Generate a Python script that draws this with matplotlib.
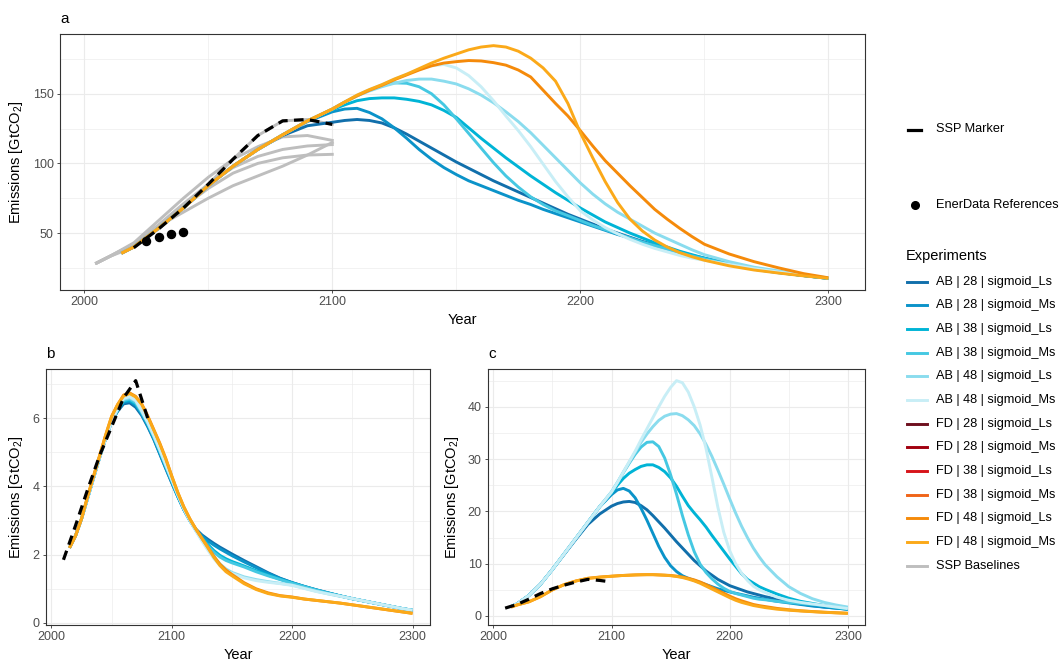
import numpy as np
import matplotlib
matplotlib.use('Agg')
import matplotlib.pyplot as plt
from matplotlib.lines import Line2D
from matplotlib.ticker import MultipleLocator

plt.rcParams['font.family'] = ['Liberation Sans', 'DejaVu Sans']
plt.rcParams['mathtext.fontset'] = 'custom'
plt.rcParams['mathtext.rm'] = 'Liberation Sans'
plt.rcParams['mathtext.it'] = 'Liberation Sans:italic'

# ---- data -------------------------------------------------------------
experiment_labels = ['AB | 28 | sigmoid_Ls', 'AB | 28 | sigmoid_Ms',
                     'AB | 38 | sigmoid_Ls', 'AB | 38 | sigmoid_Ms',
                     'AB | 48 | sigmoid_Ls', 'AB | 48 | sigmoid_Ms',
                     'FD | 28 | sigmoid_Ls', 'FD | 28 | sigmoid_Ms',
                     'FD | 38 | sigmoid_Ls', 'FD | 38 | sigmoid_Ms',
                     'FD | 48 | sigmoid_Ls', 'FD | 48 | sigmoid_Ms']
experiment_colors = ['#116fab', '#0b93c9', '#00b4d6', '#45c8e2', '#8adcee', '#c8eef6',
                     '#6e0f1e', '#a1000f', '#d7141a', '#f06418', '#f58a0a', '#fba919']

# panel a: total emissions, sampled denser where the runs bend
years_a = [2015] + list(range(2020, 2100, 10)) + list(range(2100, 2251, 5)) + list(range(2260, 2301, 10))
a_ab28_ls = [35.5, 40, 53.5, 68, 84, 98, 110, 120, 127,
             129.5, 130.8, 131.5, 130.8, 129, 125.5, 121, 116, 111, 106, 101, 96.5, 92, 87.5, 83.5, 79.5,
             75.5, 71.5, 67.5, 63.5, 60, 56.5, 53, 50, 47, 44, 41.5, 39, 36.5, 34, 32,
             28, 24.5, 21.8, 19.5, 17.5]
a_ab28_ms = [35.5, 40, 53.5, 68, 84, 98, 110, 120.5, 130,
             137, 139, 139.5, 136.5, 132, 125.5, 118, 110, 103, 97, 92, 87.5, 84, 80.5, 77, 73.5,
             70.5, 67, 64, 61, 58, 55, 52, 49, 46.5, 43.5, 41, 38.5, 36, 33.5, 31.5,
             27.5, 24, 21.5, 19.5, 17.5]
a_ab38_ls = [35.5, 40, 53.5, 68, 84, 98, 110, 120.5, 130.5,
             138.5, 142, 145, 146.5, 147, 147, 146, 144.5, 142, 138, 133, 125.5, 118, 111, 104, 97.5,
             91, 85, 79, 73.5, 68, 63, 58, 54, 50, 46.5, 43, 40, 37, 34.5, 32,
             28, 24.5, 21.8, 19.5, 17.5]
a_ab38_ms = [35.5, 40, 53.5, 68, 84, 98, 110, 120.5, 130.5,
             139, 144, 148.5, 152.5, 156, 157.8, 157.5, 155, 150, 142, 132, 121.5, 111, 100.5, 91, 83,
             76, 70.5, 66, 62.5, 59, 55.5, 52.5, 49.5, 46.5, 43.5, 41, 38.5, 36, 33.5, 31.5,
             27.5, 24.5, 21.8, 19.5, 17.5]
a_ab48_ls = [35.5, 40, 53.5, 68, 84, 98, 110, 120.5, 130.5,
             139, 144, 148.5, 152, 155, 157.5, 159.5, 160.5, 160.5, 159, 157, 153.5, 149, 143.5, 137, 130,
             122, 113, 104, 95, 86, 78, 71, 65, 60, 55, 50, 46, 42, 38, 34.5,
             29.5, 25.5, 22.8, 20, 17.8]
a_ab48_ms = [35.5, 40, 53.5, 68, 84, 98, 110, 120.5, 130.5,
             139, 144, 149, 153, 156.5, 160.5, 164, 167.5, 170, 171, 168.5, 163, 155, 145, 134, 123.5,
             112, 99.5, 87, 76, 66, 59.5, 54, 49.5, 45.5, 42, 39, 36.5, 34, 32, 30.5,
             27.5, 24.5, 22, 19.8, 17.8]
a_fd48_ls = [35.5, 40, 53.5, 68, 84, 98, 110, 120.5, 130.5,
             139, 144, 148.5, 152.5, 156, 160, 163.5, 167, 170, 172, 173, 173.8, 173.5, 172.3, 170.5, 167,
             162, 152.5, 143, 134, 123.5, 112.5, 102, 93, 84, 75.5, 67, 60, 53.5, 47.5, 42,
             35, 29.5, 25, 20.9, 17.9]
a_fd48_ms = [35.5, 40, 53.5, 68, 84, 98, 110, 120.5, 130.5,
             139, 144, 149, 153, 156.5, 160.5, 164, 168, 172, 175.5, 178.5, 181.5, 183.5, 184.5, 183.5, 180.5,
             175.5, 168.5, 159, 143, 122, 104, 87, 72, 60, 51.5, 45, 40, 36, 33, 30.5,
             26.5, 23.5, 21.3, 19.3, 17.5]

# panel b
years_b = list(range(2015, 2151, 5)) + list(range(2160, 2301, 10))
b_ab28_ls = [2.2, 2.55, 3.05, 3.65, 4.25, 4.85, 5.4, 5.9,
             6.2, 6.42, 6.45, 6.32, 6.08, 5.75, 5.38, 4.95, 4.52, 4.1, 3.7, 3.32, 3.0, 2.75, 2.58, 2.45,
             2.33, 2.22, 2.12, 2.02,
             1.83, 1.65, 1.47, 1.31, 1.18, 1.07, 0.97, 0.88, 0.79, 0.71, 0.64, 0.57, 0.5, 0.43, 0.37]
b_ab28_ms = [2.2, 2.55, 3.05, 3.65, 4.25, 4.85, 5.4, 5.9,
             6.22, 6.46, 6.5, 6.38, 6.12, 5.78, 5.4, 4.97, 4.54, 4.12, 3.7, 3.32, 3.0, 2.73, 2.55, 2.4,
             2.28, 2.17, 2.07, 1.97,
             1.79, 1.62, 1.45, 1.3, 1.18, 1.07, 0.97, 0.88, 0.79, 0.71, 0.64, 0.57, 0.5, 0.43, 0.37]
b_ab38_ls = [2.2, 2.55, 3.05, 3.65, 4.25, 4.85, 5.4, 5.9,
             6.24, 6.5, 6.53, 6.42, 6.15, 5.82, 5.44, 5.02, 4.58, 4.15, 3.72, 3.33, 3.0, 2.72, 2.5, 2.3,
             2.12, 1.98, 1.88, 1.8,
             1.67, 1.53, 1.4, 1.28, 1.17, 1.06, 0.96, 0.87, 0.79, 0.71, 0.64, 0.57, 0.5, 0.43, 0.37]
b_ab38_ms = [2.2, 2.55, 3.05, 3.65, 4.25, 4.85, 5.4, 5.9,
             6.25, 6.52, 6.56, 6.45, 6.17, 5.84, 5.46, 5.04, 4.6, 4.16, 3.73, 3.33, 3.0, 2.72, 2.47, 2.25,
             2.07, 1.93, 1.83, 1.76,
             1.64, 1.5, 1.38, 1.27, 1.16, 1.06, 0.96, 0.87, 0.79, 0.71, 0.64, 0.57, 0.5, 0.43, 0.37]
b_ab48_ls = [2.2, 2.55, 3.05, 3.65, 4.25, 4.85, 5.4, 5.9,
             6.27, 6.55, 6.6, 6.5, 6.2, 5.87, 5.48, 5.07, 4.63, 4.2, 3.76, 3.35, 3.0, 2.7, 2.43, 2.18,
             1.93, 1.73, 1.58, 1.48,
             1.35, 1.27, 1.21, 1.16, 1.11, 1.02, 0.93, 0.85, 0.78, 0.71, 0.64, 0.57, 0.5, 0.43, 0.37]
b_ab48_ms = [2.2, 2.55, 3.05, 3.65, 4.25, 4.85, 5.4, 5.9,
             6.28, 6.58, 6.63, 6.52, 6.22, 5.88, 5.5, 5.08, 4.64, 4.2, 3.76, 3.35, 3.0, 2.7, 2.4, 2.13,
             1.88, 1.68, 1.54, 1.45,
             1.32, 1.24, 1.19, 1.15, 1.1, 1.01, 0.92, 0.85, 0.78, 0.71, 0.64, 0.57, 0.5, 0.43, 0.37]
b_fd48_ls = [2.2, 2.55, 3.05, 3.7, 4.3, 4.9, 5.5, 6.05,
             6.4, 6.68, 6.74, 6.64, 6.42, 6.07, 5.67, 5.27, 4.82, 4.3, 3.82, 3.4, 3.05, 2.75, 2.48, 2.22,
             1.95, 1.72, 1.55, 1.42,
             1.18, 1.0, 0.88, 0.8, 0.76, 0.7, 0.66, 0.62, 0.58, 0.53, 0.48, 0.43, 0.38, 0.33, 0.28]
b_fd48_ms = [2.2, 2.55, 3.05, 3.7, 4.3, 4.9, 5.5, 6.05,
             6.4, 6.65, 6.72, 6.62, 6.4, 6.05, 5.65, 5.25, 4.8, 4.3, 3.82, 3.4, 3.05, 2.75, 2.48, 2.2,
             1.92, 1.68, 1.5, 1.38,
             1.15, 0.98, 0.86, 0.79, 0.75, 0.7, 0.66, 0.62, 0.58, 0.53, 0.48, 0.43, 0.38, 0.33, 0.28]

# panel c
years_c = [2015] + list(range(2020, 2100, 10)) + list(range(2100, 2231, 5)) + list(range(2240, 2301, 10))
c_ab28_ls = [1.8, 2.3, 3.9, 6.1, 8.9, 11.8, 14.7, 17.5, 19.5,
             21.0, 21.5, 21.8, 21.9, 21.7, 21.1, 20.3, 19.2, 18.0, 16.8, 15.5, 14.2, 13.0, 11.8, 10.6,
             9.6, 8.6, 7.8, 7.0, 6.4, 5.8, 5.4, 5.0, 4.6, 4.3, 4.0, 3.7,
             3.2, 2.7, 2.3, 2.0, 1.7, 1.5, 1.3]
c_ab28_ms = [1.8, 2.3, 3.9, 6.1, 8.9, 11.9, 14.9, 17.9, 20.9,
             23.2, 24.1, 24.4, 23.9, 22.6, 20.6, 18.3, 15.8, 13.3, 11.2, 9.6, 8.5, 7.7, 7.2, 6.8,
             6.4, 6.0, 5.6, 5.2, 4.9, 4.6, 4.35, 4.1, 3.85, 3.6, 3.4, 3.2,
             2.8, 2.5, 2.2, 1.9, 1.7, 1.5, 1.3]
c_ab38_ls = [1.8, 2.3, 3.9, 6.1, 8.9, 11.9, 14.9, 17.9, 20.9,
             23.5, 25.0, 26.3, 27.3, 28.0, 28.6, 28.9, 28.9, 28.4, 27.6, 26.4, 24.8, 22.9, 21.1, 19.7,
             18.4, 17.0, 15.4, 13.9, 12.4, 10.9, 9.5, 8.1, 7.0, 6.3, 5.6, 5.1,
             4.2, 3.4, 2.8, 2.4, 2.0, 1.6, 1.3]
c_ab38_ms = [1.8, 2.3, 3.9, 6.1, 8.9, 11.9, 14.9, 17.9, 20.9,
             23.7, 25.5, 27.4, 29.2, 30.9, 32.3, 33.2, 33.3, 32.4, 30.2, 27.0, 23.3, 19.2, 15.5, 12.3,
             9.9, 8.3, 7.1, 6.1, 5.3, 4.7, 4.3, 4.0, 3.7, 3.4, 3.2, 3.1,
             2.8, 2.6, 2.4, 2.2, 2.0, 1.8, 1.6]
c_ab48_ls = [1.8, 2.3, 3.9, 6.1, 8.9, 11.9, 14.9, 17.9, 20.9,
             23.7, 25.5, 27.5, 29.4, 31.3, 33.2, 34.8, 36.2, 37.4, 38.2, 38.6, 38.7, 38.3, 37.5, 36.4,
             34.8, 32.8, 30.5, 27.9, 25.2, 22.4, 19.7, 17.2, 15.0, 13.0, 11.3, 9.8,
             7.5, 5.6, 4.3, 3.3, 2.6, 2.1, 1.7]
c_ab48_ms = [1.8, 2.3, 3.9, 6.1, 8.9, 11.9, 14.9, 17.9, 20.9,
             23.7, 25.5, 27.5, 29.5, 31.5, 33.7, 35.8, 37.9, 40.0, 42.0, 43.7, 45.0, 44.6, 42.8, 40.0,
             36.5, 32.0, 26.5, 20.8, 16.0, 12.5, 10.0, 8.2, 6.8, 5.7, 5.0, 4.5,
             3.6, 3.0, 2.6, 2.3, 2.0, 1.7, 1.4]
c_fd48_ls = [1.7, 2.1, 2.7, 3.7, 5.0, 6.0, 6.7, 7.2, 7.45,
             7.6, 7.68, 7.75, 7.8, 7.85, 7.88, 7.9, 7.9, 7.85, 7.8, 7.75, 7.62, 7.45, 7.2, 6.9,
             6.5, 6.0, 5.45, 4.9, 4.35, 3.8, 3.3, 2.9, 2.55, 2.2, 1.98, 1.8,
             1.45, 1.2, 1.0, 0.85, 0.72, 0.62, 0.52]
c_fd48_ms = [1.7, 2.1, 2.7, 3.7, 5.0, 6.0, 6.7, 7.2, 7.4,
             7.6, 7.68, 7.75, 7.8, 7.85, 7.88, 7.9, 7.9, 7.85, 7.8, 7.7, 7.55, 7.35, 7.05, 6.7,
             6.25, 5.7, 5.15, 4.6, 4.05, 3.5, 3.0, 2.6, 2.3, 2.0, 1.8, 1.6,
             1.3, 1.1, 0.95, 0.82, 0.7, 0.6, 0.5]

# SSP baselines (panel a only)
ssp_years = [2005, 2010, 2020, 2030, 2040, 2050, 2060, 2070, 2080, 2090, 2100]
ssp_base_1 = [28.5, 33, 43, 59, 75, 90, 103, 112, 119, 120, 116.5]
ssp_base_2 = [28.5, 33, 42, 56, 71, 85, 97, 105, 110, 112.5, 113.5]
ssp_base_3 = [28.5, 33, 42, 55, 69, 82, 93, 100, 104, 106, 106.5]
ssp_base_4 = [28.5, 33, 42, 55, 65, 75, 84, 91, 98, 106, 115]
ssp_base_5 = [28.5, 33, 40, 53, 68, 85, 103, 120, 130.5, 131.5, 128]

# SSP marker scenario
marker_years_a = [2020, 2030, 2040, 2050, 2060, 2070, 2080, 2090, 2100]
marker_a = [39.5, 53, 68, 85, 103, 120, 130.5, 131.5, 128]
marker_years_b = [2010, 2020, 2030, 2040, 2050, 2060, 2070, 2080]
marker_b = [1.85, 2.85, 3.9, 4.9, 5.75, 6.6, 7.1, 6.0]
marker_years_c = [2010, 2020, 2030, 2040, 2050, 2060, 2070, 2080, 2090, 2100]
marker_c = [1.5, 2.2, 3.2, 4.3, 5.2, 5.9, 6.5, 7.0, 6.8, 6.5]

# EnerData reference points
enerdata_years = [2025, 2030, 2035, 2040]
enerdata_values = [44.5, 47, 49, 51]

# ---- figure -------------------------------------------------------------
W, H = 1064, 666
fig = plt.figure(figsize=(W / 100, H / 100), dpi=100)


def px_axes(left, top, right, bottom):
    return fig.add_axes([left / W, 1 - bottom / H, (right - left) / W, (bottom - top) / H])


ax_a = px_axes(60, 34, 865, 290)
ax_b = px_axes(46, 369, 430, 625)
ax_c = px_axes(488, 369, 865, 625)

LW = 2.1
grey_text = '#4d4d4d'


def style(ax, ymaj, ymin, title, ylab_x):
    ax.set_axisbelow(True)
    ax.xaxis.set_major_locator(MultipleLocator(100))
    ax.xaxis.set_minor_locator(MultipleLocator(50))
    ax.yaxis.set_major_locator(MultipleLocator(ymaj))
    ax.yaxis.set_minor_locator(MultipleLocator(ymin))
    ax.grid(which='major', color='#ebebeb', lw=0.8)
    ax.grid(which='minor', color='#ebebeb', lw=0.45)
    for s in ax.spines.values():
        s.set_color('#333333')
        s.set_linewidth(0.8)
    ax.tick_params(which='major', length=2.5, width=0.6, color='#333333',
                   labelsize=9, labelcolor=grey_text, pad=2)
    ax.tick_params(which='minor', length=0)
    ax.set_xlabel('Year', fontsize=10.5)
    ax.set_ylabel('Emissions [GtCO$_2$]', fontsize=10.5)
    ax.xaxis.set_label_coords(0.5, -0.09)
    ax.yaxis.set_label_coords(ylab_x, 0.5)
    ax.text(0, 1 + 11 / 256, title, transform=ax.transAxes, fontsize=11, va='baseline')


def draw_runs(ax, yrs, runs, colors):
    for vals, col in zip(runs, colors):
        ax.plot(yrs, vals, color=col, lw=LW, solid_capstyle='butt', zorder=3)


ab_colors = experiment_colors[:6]
fd48_colors = experiment_colors[10:]

# panel a
for base in [ssp_base_1, ssp_base_2, ssp_base_3, ssp_base_4, ssp_base_5]:
    ax_a.plot(ssp_years, base, color='#bebebe', lw=LW, zorder=2)
draw_runs(ax_a, years_a, [a_ab28_ls, a_ab28_ms, a_ab38_ls, a_ab38_ms, a_ab48_ls, a_ab48_ms], ab_colors)
draw_runs(ax_a, years_a, [a_fd48_ls, a_fd48_ms], fd48_colors)
ax_a.plot(marker_years_a, marker_a, color='black', lw=2.3, dashes=(3, 2), zorder=4)
ax_a.plot(enerdata_years, enerdata_values, 'o', color='black', ms=5.8, zorder=5)

# panel b
draw_runs(ax_b, years_b, [b_ab28_ls, b_ab28_ms, b_ab38_ls, b_ab38_ms, b_ab48_ls, b_ab48_ms], ab_colors)
draw_runs(ax_b, years_b, [b_fd48_ls, b_fd48_ms], fd48_colors)
ax_b.plot(marker_years_b, marker_b, color='black', lw=2.3, dashes=(3, 2), zorder=4)

# panel c
draw_runs(ax_c, years_c, [c_ab28_ls, c_ab28_ms, c_ab38_ls, c_ab38_ms, c_ab48_ls, c_ab48_ms], ab_colors)
draw_runs(ax_c, years_c, [c_fd48_ls, c_fd48_ms], fd48_colors)
ax_c.plot(marker_years_c, marker_c, color='black', lw=2.3, dashes=(3, 2), zorder=4)

style(ax_a, 50, 25, 'a', -0.0435)
style(ax_b, 2, 1, 'b', -0.055)
style(ax_c, 10, 5, 'c', -0.0716)

# ---- legends (figure coordinates) ---------------------------------------
def fx(px):
    return px / W


def fy(py):
    return 1 - py / H


key_x0, key_x1, text_x = 907, 927, 936
fig.add_artist(Line2D([fx(908), fx(921)], [fy(129.5)] * 2, color='black', lw=2.3))
fig.text(fx(text_x), fy(129.5), 'SSP Marker', fontsize=9.2, va='center')
fig.add_artist(Line2D([fx(915)], [fy(205)], marker='o', color='black', ms=5.5, lw=0))
fig.text(fx(text_x), fy(205), 'EnerData References', fontsize=9.2, va='center')

fig.text(fx(906), fy(256.5), 'Experiments', fontsize=10.5, va='center')
legend_labels = experiment_labels + ['SSP Baselines']
legend_colors = experiment_colors + ['#bebebe']
for i, (lab, col) in enumerate(zip(legend_labels, legend_colors)):
    y = 281.7 + i * 23.67
    fig.add_artist(Line2D([fx(key_x0), fx(key_x1)], [fy(y)] * 2, color=col, lw=2.1))
    fig.text(fx(text_x), fy(y), lab, fontsize=9.2, va='center')

fig.savefig('out.png', dpi=100)
